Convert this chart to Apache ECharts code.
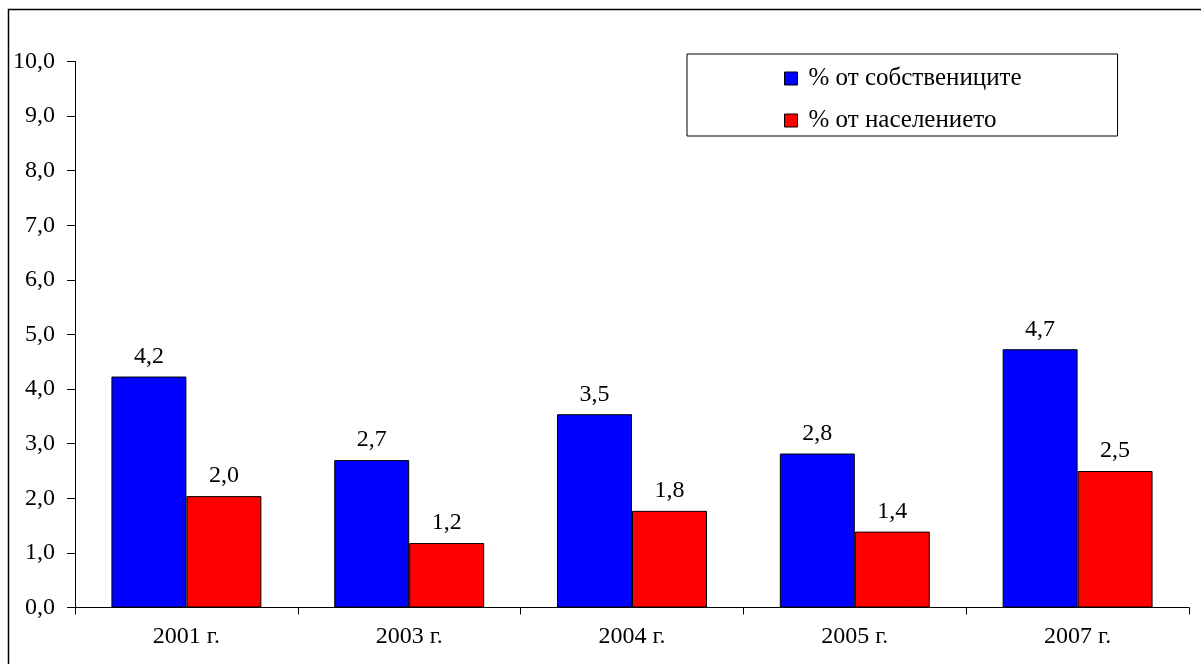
<!DOCTYPE html>
<html>
<head>
<meta charset="utf-8">
<script src="https://cdn.jsdelivr.net/npm/echarts@6/dist/echarts.min.js"></script>
<style>
html,body{margin:0;padding:0;background:#fff;}
#chart{width:1201px;height:664px;}
</style>
</head>
<body>
<div id="chart"></div>
<script>
const categories = ['2001 г.', '2003 г.', '2004 г.', '2005 г.', '2007 г.'];
const ownersPct = [4.23, 2.70, 3.54, 2.82, 4.73];
const populationPct = [2.04, 1.18, 1.77, 1.39, 2.50];
const seriesNames = ['% от собствениците', '% от населението'];

const fmt = v => Number(v).toFixed(1).replace('.', ',');
const FONT = '"Liberation Serif", "Times New Roman", serif';
const FS = 24;

const chart = echarts.init(document.getElementById('chart'));
chart.setOption({
  animation: false,
  backgroundColor: '#fff',
  textStyle: { fontFamily: FONT, color: '#000' },
  graphic: [{
    type: 'rect',
    shape: { x: 8.5, y: 9.5, width: 1250, height: 700 },
    style: { fill: 'none', stroke: '#000', lineWidth: 1.5 },
    z: -1
  }],
  grid: { left: 75, right: 12, top: 61.5, bottom: 56.5, containLabel: false },
  legend: {
    data: seriesNames,
    orient: 'vertical',
    left: 687,
    top: 54,
    padding: [12, 96, 3, 97],
    itemGap: 17,
    itemWidth: 13,
    itemHeight: 13,
    icon: 'rect',
    borderColor: '#000',
    borderWidth: 1,
    backgroundColor: '#fff',
    textStyle: { fontFamily: FONT, fontSize: 25, color: '#000', padding: [0, 0, 0, 6] },
    itemStyle: { borderColor: '#000', borderWidth: 1 }
  },
  xAxis: {
    type: 'category',
    data: categories,
    axisLine: { lineStyle: { color: '#000', width: 1 } },
    axisTick: { show: true, length: 7, alignWithLabel: false, lineStyle: { color: '#000' } },
    axisLabel: { fontFamily: FONT, fontSize: FS, color: '#000', margin: 17 },
    splitLine: { show: false }
  },
  yAxis: {
    type: 'value',
    min: 0,
    max: 10,
    interval: 1,
    axisLine: { show: true, lineStyle: { color: '#000', width: 1 } },
    axisTick: { show: true, inside: false, length: 8, lineStyle: { color: '#000' } },
    axisLabel: { fontFamily: FONT, fontSize: FS, color: '#000', margin: 20, formatter: fmt },
    splitLine: { show: false }
  },
  series: [
    {
      name: seriesNames[0],
      type: 'bar',
      data: ownersPct,
      barGap: '0%',
      barCategoryGap: '32.7%',
      itemStyle: { color: '#0000ff', borderColor: '#000', borderWidth: 1 },
      label: { show: true, position: 'top', distance: 8, fontFamily: FONT, fontSize: FS, color: '#000', formatter: p => fmt(p.value) }
    },
    {
      name: seriesNames[1],
      type: 'bar',
      data: populationPct,
      barGap: '0%',
      barCategoryGap: '32.7%',
      itemStyle: { color: '#ff0000', borderColor: '#000', borderWidth: 1 },
      label: { show: true, position: 'top', distance: 8, fontFamily: FONT, fontSize: FS, color: '#000', formatter: p => fmt(p.value) }
    }
  ]
});
</script>
</body>
</html>
